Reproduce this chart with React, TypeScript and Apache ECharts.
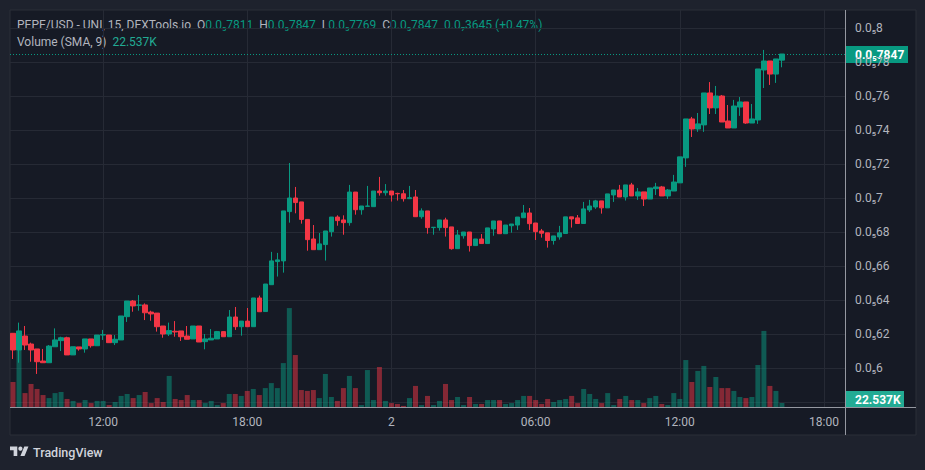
import React, { useEffect, useRef } from 'react';
import * as echarts from 'echarts';

// ---- data (15-minute candles, PEPE/USD, prices in units of 0.0₅x = 1e-6) ----
const startMinutes = 8 * 60 + 15; // first candle 08:15
const slotCount = 139; // candles + empty space to the right edge

const openPrices = [
  0.6204, 0.6106, 0.6188, 0.6141, 0.6112, 0.6041, 0.6031, 0.6125, 0.6161, 0.6178,
  0.6077, 0.6124, 0.6112, 0.6171, 0.6131, 0.6194, 0.6194, 0.6149, 0.6165, 0.6302,
  0.6394, 0.6369, 0.6371, 0.6329, 0.6323, 0.6247, 0.6200, 0.6216, 0.6218, 0.6188,
  0.6171, 0.6247, 0.6155, 0.6165, 0.6171, 0.6214, 0.6184, 0.6300, 0.6243, 0.6276,
  0.6243, 0.6412, 0.6332, 0.6490, 0.6626, 0.6630, 0.6920, 0.7000, 0.6977, 0.6874,
  0.6759, 0.6696, 0.6726, 0.6802, 0.6888, 0.6871, 0.6855, 0.7035, 0.6931, 0.6951,
  0.6949, 0.7041, 0.7031, 0.7041, 0.7027, 0.7025, 0.6996, 0.7006, 0.6890, 0.6924,
  0.6826, 0.6826, 0.6871, 0.6830, 0.6702, 0.6778, 0.6800, 0.6720, 0.6759, 0.6732,
  0.6818, 0.6865, 0.6790, 0.6837, 0.6841, 0.6884, 0.6912, 0.6853, 0.6806, 0.6795,
  0.6750, 0.6771, 0.6791, 0.6889, 0.6883, 0.6850, 0.6930, 0.6947, 0.6983, 0.6942,
  0.7018, 0.7047, 0.7006, 0.7077, 0.7012, 0.7036, 0.6994, 0.7055, 0.7065, 0.7012,
  0.7041, 0.7089, 0.7236, 0.7465, 0.7406, 0.7430, 0.7618, 0.7530, 0.7600, 0.7453,
  0.7412, 0.7535, 0.7565, 0.7441, 0.7459, 0.7753, 0.7806, 0.7729, 0.7811,
];
const closePrices = [
  0.6106, 0.6218, 0.6135, 0.6106, 0.6037, 0.6031, 0.6129, 0.6165, 0.6178, 0.6077,
  0.6125, 0.6112, 0.6171, 0.6131, 0.6194, 0.6196, 0.6149, 0.6169, 0.6306, 0.6394,
  0.6365, 0.6371, 0.6325, 0.6318, 0.6243, 0.6200, 0.6220, 0.6212, 0.6184, 0.6169,
  0.6247, 0.6153, 0.6171, 0.6175, 0.6214, 0.6184, 0.6300, 0.6243, 0.6276, 0.6243,
  0.6412, 0.6331, 0.6494, 0.6630, 0.6636, 0.6924, 0.7000, 0.6973, 0.6874, 0.6755,
  0.6696, 0.6730, 0.6806, 0.6888, 0.6867, 0.6855, 0.7035, 0.6931, 0.6953, 0.6953,
  0.7041, 0.7031, 0.7041, 0.7018, 0.7025, 0.6996, 0.7002, 0.6890, 0.6924, 0.6826,
  0.6828, 0.6871, 0.6826, 0.6702, 0.6782, 0.6800, 0.6720, 0.6759, 0.6732, 0.6824,
  0.6865, 0.6790, 0.6841, 0.6847, 0.6888, 0.6912, 0.6849, 0.6802, 0.6793, 0.6750,
  0.6777, 0.6795, 0.6889, 0.6877, 0.6850, 0.6936, 0.6953, 0.6983, 0.6942, 0.7024,
  0.7047, 0.7006, 0.7077, 0.7012, 0.7036, 0.6994, 0.7059, 0.7065, 0.7012, 0.7047,
  0.7094, 0.7242, 0.7465, 0.7406, 0.7436, 0.7618, 0.7530, 0.7600, 0.7447, 0.7412,
  0.7541, 0.7565, 0.7441, 0.7465, 0.7759, 0.7806, 0.7729, 0.7818, 0.7847,
];
const lowPrices = [
  0.6053, 0.6031, 0.6106, 0.6037, 0.5965, 0.6031, 0.6031, 0.6125, 0.6100, 0.6077,
  0.6077, 0.6102, 0.6090, 0.6120, 0.6131, 0.6165, 0.6149, 0.6135, 0.6165, 0.6271,
  0.6331, 0.6337, 0.6282, 0.6278, 0.6214, 0.6178, 0.6188, 0.6184, 0.6159, 0.6169,
  0.6171, 0.6153, 0.6110, 0.6165, 0.6171, 0.6184, 0.6184, 0.6224, 0.6190, 0.6243,
  0.6243, 0.6331, 0.6331, 0.6490, 0.6538, 0.6561, 0.6855, 0.6910, 0.6849, 0.6690,
  0.6696, 0.6696, 0.6632, 0.6773, 0.6837, 0.6784, 0.6837, 0.6902, 0.6902, 0.6949,
  0.6949, 0.7014, 0.7014, 0.6979, 0.6985, 0.6979, 0.6996, 0.6890, 0.6878, 0.6790,
  0.6784, 0.6808, 0.6773, 0.6696, 0.6702, 0.6761, 0.6685, 0.6720, 0.6732, 0.6732,
  0.6778, 0.6790, 0.6790, 0.6796, 0.6812, 0.6884, 0.6812, 0.6753, 0.6767, 0.6708,
  0.6726, 0.6755, 0.6791, 0.6826, 0.6850, 0.6850, 0.6918, 0.6936, 0.6908, 0.6942,
  0.6977, 0.7006, 0.6985, 0.7012, 0.6989, 0.6953, 0.6994, 0.7018, 0.7012, 0.6994,
  0.7041, 0.7089, 0.7183, 0.7359, 0.7389, 0.7389, 0.7494, 0.7494, 0.7447, 0.7412,
  0.7412, 0.7483, 0.7436, 0.7441, 0.7436, 0.7647, 0.7665, 0.7677, 0.7769,
];
const highPrices = [
  0.6206, 0.6267, 0.6247, 0.6149, 0.6112, 0.6112, 0.6135, 0.6233, 0.6184, 0.6184,
  0.6125, 0.6124, 0.6171, 0.6171, 0.6194, 0.6224, 0.6194, 0.6194, 0.6306, 0.6394,
  0.6400, 0.6429, 0.6380, 0.6337, 0.6323, 0.6247, 0.6267, 0.6276, 0.6218, 0.6247,
  0.6247, 0.6247, 0.6200, 0.6229, 0.6218, 0.6214, 0.6341, 0.6359, 0.6276, 0.6353,
  0.6412, 0.6426, 0.6494, 0.6683, 0.6677, 0.6924, 0.7206, 0.7065, 0.6977, 0.6874,
  0.6841, 0.6794, 0.6806, 0.6888, 0.6898, 0.6898, 0.7077, 0.7035, 0.6953, 0.7071,
  0.7041, 0.7124, 0.7082, 0.7041, 0.7031, 0.7047, 0.7071, 0.7047, 0.6939, 0.6924,
  0.6828, 0.6871, 0.6884, 0.6830, 0.6812, 0.6800, 0.6800, 0.6759, 0.6788, 0.6824,
  0.6865, 0.6865, 0.6841, 0.6847, 0.6888, 0.6959, 0.6941, 0.6853, 0.6818, 0.6795,
  0.6777, 0.6836, 0.6889, 0.6889, 0.6900, 0.6977, 0.6989, 0.6989, 0.6983, 0.7024,
  0.7047, 0.7077, 0.7077, 0.7089, 0.7059, 0.7036, 0.7059, 0.7089, 0.7071, 0.7053,
  0.7136, 0.7242, 0.7465, 0.7477, 0.7500, 0.7618, 0.7682, 0.7659, 0.7606, 0.7547,
  0.7577, 0.7594, 0.7565, 0.7553, 0.7759, 0.7871, 0.7806, 0.7818, 0.7847,
];
// volume in thousands
const volumesK = [
  140, 426, 78, 129, 101, 67, 50, 78, 84, 45,
  34, 22, 39, 22, 34, 34, 11, 28, 62, 73,
  50, 67, 84, 22, 50, 28, 174, 45, 39, 67,
  39, 39, 22, 34, 11, 22, 73, 73, 62, 90,
  101, 67, 106, 134, 106, 246, 554, 291, 95, 90,
  95, 50, 185, 56, 34, 106, 174, 106, 11, 207,
  39, 224, 34, 22, 17, 6, 50, 118, 11, 62,
  11, 34, 129, 39, 56, 11, 56, 17, 17, 39,
  39, 39, 17, 22, 39, 62, 62, 39, 17, 45,
  28, 39, 45, 62, 22, 101, 73, 45, 22, 78,
  11, 45, 62, 39, 39, 22, 50, 62, 17, 11,
  78, 45, 263, 140, 202, 230, 112, 168, 106, 106,
  90, 56, 50, 56, 235, 426, 118, 90, 22.537,
];

const timeTickIndex = [15, 39, 63, 87, 111, 135];
const timeTickLabel = ['12:00', '18:00', '2', '06:00', '12:00', '18:00'];
const priceMin = 0.58;
const priceMax = 0.8;
const priceStep = 0.02;
const volumeAxisMax = 2223;

const legendTitle = 'PEPE/USD - UNI, 15, DEXTools.io';
const legendOpen = '0.0₅7811';
const legendHigh = '0.0₅7847';
const legendLow = '0.0₅7769';
const legendClose = '0.0₅7847';
const legendChange = '0.0₇3645 (+0.47%)';
const volumeTitle = 'Volume (SMA, 9)';
const volumeLast = '22.537K';

const categories: string[] = [];
for (let i = 0; i < slotCount; i++) {
  const m = startMinutes + i * 15;
  const hh = Math.floor(m / 60) % 24;
  const mm = m % 60;
  categories.push(String(hh).padStart(2, '0') + ':' + String(mm).padStart(2, '0'));
}

const UP = '#089981';
const DOWN = '#f23645';
const TEXT = '#b2b5be';
const FONT = 'Roboto, "Noto Sans", sans-serif';

function fmtDigits(v: number, digits: number): string {
  const s = v.toFixed(digits).split('.')[1].replace(/0+$/, '');
  return '0.0₅' + s;
}
function fmtAxis(v: number): string {
  if (v < 0.59) return '';
  return fmtDigits(v, 2);
}

export default function App() {
  const ref = useRef<HTMLDivElement>(null);
  useEffect(() => {
    if (!ref.current) return;
    const chart = echarts.init(ref.current, null, { renderer: 'svg' });
    const candleData = openPrices.map((o, i) => [o, closePrices[i], lowPrices[i], highPrices[i]]);
    const volData = volumesK.map((v, i) => ({
      value: v,
      itemStyle: { color: closePrices[i] >= openPrices[i] ? 'rgba(8,153,129,0.5)' : 'rgba(242,54,69,0.5)' },
    }));
    const lastClose = closePrices[closePrices.length - 1];

    const priceGraphics = (py: number) => [
      {
        type: 'line',
        id: 'priceLine',
        z: 8,
        shape: { x1: 10, y1: Math.round(py) + 0.5, x2: 845, y2: Math.round(py) + 0.5 },
        style: { stroke: UP, lineWidth: 1, lineDash: [1, 2] },
      },
      {
        type: 'group',
        id: 'priceLabel',
        x: 846,
        y: Math.round(py) - 8,
        z: 20,
        children: [
          { type: 'rect', id: 'priceLabelBox', shape: { x: 0, y: 0, width: 62, height: 17 }, style: { fill: UP } },
          {
            type: 'text',
            id: 'priceLabelText',
            x: 9,
            y: 9,
            style: {
              text: fmtDigits(lastClose, 4),
              fill: '#ffffff',
              font: `bold 12px ${FONT}`,
              textVerticalAlign: 'middle',
            },
          },
        ],
      },
    ];

    const option: any = {
      animation: false,
      backgroundColor: '#1e222d',
      grid: [
        { left: 10, right: 80, top: 28, bottom: 68 },
        { left: 10, right: 80, top: 10, bottom: 63 },
      ],
      xAxis: [
        { type: 'category', gridIndex: 0, data: categories, boundaryGap: true, show: false },
        {
          type: 'category',
          gridIndex: 1,
          data: categories,
          boundaryGap: true,
          axisLine: { show: false },
          axisTick: { show: false },
          axisLabel: {
            interval: (index: number) => timeTickIndex.includes(index),
            formatter: (_v: string, index: number) => {
              const k = timeTickIndex.indexOf(index);
              return k >= 0 ? timeTickLabel[k] : '';
            },
            color: TEXT,
            fontSize: 12,
            fontFamily: FONT,
            margin: 9,
          },
          splitLine: {
            show: true,
            interval: (index: number) => timeTickIndex.includes(index),
            alignWithLabel: true,
            lineStyle: { color: '#262a35', width: 1 },
          },
        },
      ],
      yAxis: [
        {
          type: 'value',
          gridIndex: 0,
          position: 'right',
          min: priceMin,
          max: priceMax,
          interval: priceStep,
          axisLine: { show: false },
          axisTick: { show: false },
          axisLabel: {
            formatter: fmtAxis,
            color: TEXT,
            fontSize: 12,
            fontFamily: FONT,
            margin: 10,
          },
          splitLine: { show: true, lineStyle: { color: '#262a35', width: 1 } },
        },
        { type: 'value', gridIndex: 1, min: 0, max: volumeAxisMax, show: false, splitLine: { show: false } },
      ],
      series: [
        {
          type: 'bar',
          xAxisIndex: 1,
          yAxisIndex: 1,
          data: volData,
          barWidth: 5,
          z: 2,
        },
        {
          type: 'candlestick',
          xAxisIndex: 0,
          yAxisIndex: 0,
          data: candleData,
          barWidth: 5,
          clip: false,
          z: 5,
          itemStyle: { color: UP, color0: DOWN, borderColor: UP, borderColor0: DOWN, borderWidth: 1 },
        },
      ],
      graphic: [
        {
          type: 'rect',
          id: 'panel',
          z: -100,
          shape: { x: 10, y: 10, width: 906, height: 425 },
          style: { fill: '#161a25', stroke: '#2a2e39', lineWidth: 1 },
        },
        {
          type: 'line',
          id: 'vsep',
          z: 10,
          shape: { x1: 845.5, y1: 10, x2: 845.5, y2: 435 },
          style: { stroke: '#9598a1', lineWidth: 1 },
        },
        {
          type: 'line',
          id: 'hsep',
          z: 10,
          shape: { x1: 10, y1: 407.5, x2: 916, y2: 407.5 },
          style: { stroke: '#9598a1', lineWidth: 1 },
        },
        {
          type: 'group',
          id: 'volLabel',
          x: 846,
          y: 391,
          z: 20,
          children: [
            { type: 'rect', shape: { x: 0, y: 0, width: 58, height: 16 }, style: { fill: '#22ab94' } },
            {
              type: 'text',
              x: 9,
              y: 8.5,
              style: { text: volumeLast, fill: '#ffffff', font: `bold 12px ${FONT}`, textVerticalAlign: 'middle' },
            },
          ],
        },
        {
          type: 'text',
          id: 'legend1',
          x: 17,
          y: 25,
          style: {
            text:
              `{t|${legendTitle}}  {t|O}{v|${legendOpen}}  {t|H}{v|${legendHigh}}  ` +
              `{t|L}{v|${legendLow}}  {t|C}{v|${legendClose}}  {v|${legendChange}}`,
            textVerticalAlign: 'middle',
            font: `12px ${FONT}`,
            fill: TEXT,
            rich: {
              t: { fill: TEXT, font: `12px ${FONT}` },
              v: { fill: UP, font: `12px ${FONT}` },
            },
          },
        },
        {
          type: 'text',
          id: 'legend2',
          x: 17,
          y: 42,
          style: {
            text: `{t|${volumeTitle}}  {v|${volumeLast}}`,
            textVerticalAlign: 'middle',
            font: `12px ${FONT}`,
            fill: TEXT,
            rich: {
              t: { fill: TEXT, font: `12px ${FONT}` },
              v: { fill: '#22ab94', font: `12px ${FONT}` },
            },
          },
        },
        {
          type: 'group',
          id: 'tvlogo',
          x: 10,
          y: 444.5,
          scaleX: 0.52,
          scaleY: 0.52,
          children: [
            {
              type: 'polygon',
              shape: { points: [[0, 4], [14, 4], [14, 22], [7, 22], [7, 11], [0, 11]] },
              style: { fill: '#d1d4dc' },
            },
            { type: 'circle', shape: { cx: 20, cy: 8, r: 4 }, style: { fill: '#d1d4dc' } },
            {
              type: 'polygon',
              shape: { points: [[20, 22], [27.5, 4], [35.5, 4], [28, 22]] },
              style: { fill: '#d1d4dc' },
            },
          ],
        },
        {
          type: 'text',
          id: 'tvtext',
          x: 33,
          y: 452,
          style: { text: 'TradingView', fill: '#d1d4dc', font: `500 12.5px ${FONT}`, textVerticalAlign: 'middle' },
        },
        ...priceGraphics(-100),
      ],
    };
    chart.setOption(option);

    // last-price line and label, positioned through the price axis
    const py = chart.convertToPixel({ yAxisIndex: 0 } as any, lastClose) as number;
    chart.setOption({ graphic: priceGraphics(py) });
    return () => chart.dispose();
  }, []);
  return <div ref={ref} style={{ position: 'fixed', left: 0, top: 0, width: 925, height: 470 }} />;
}
